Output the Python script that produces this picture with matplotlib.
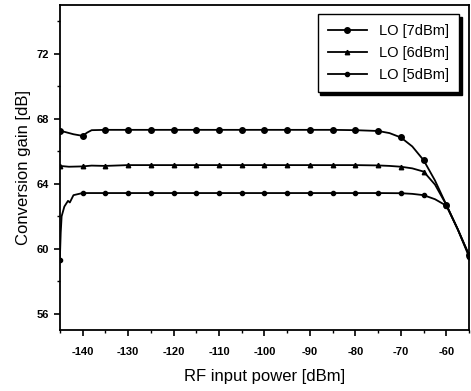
import matplotlib.pyplot as plt
from matplotlib.ticker import MultipleLocator

# RF input power [dBm] and conversion gain [dB]
x_7dbm = [-145, -144, -142, -140, -139, -138, -135, -130, -125, -120, -115, -110,
          -105, -100, -95, -90, -85, -80, -75, -72.5, -70, -67.5, -65, -62.5,
          -60, -57.5, -55]
g_7dbm = [67.25, 67.2, 67.05, 66.95, 67.15, 67.3, 67.32, 67.32, 67.32, 67.32, 67.32, 67.32,
          67.32, 67.32, 67.32, 67.32, 67.32, 67.3, 67.25, 67.12, 66.85, 66.3, 65.45, 64.2,
          62.7, 61.2, 59.6]

x_6dbm = [-145, -143, -140, -138, -135, -130, -125, -120, -115, -110,
          -105, -100, -95, -90, -85, -80, -75, -72.5, -70, -67.5, -65, -62.5,
          -60, -57.5, -55]
g_6dbm = [65.1, 65.05, 65.07, 65.12, 65.1, 65.15, 65.15, 65.15, 65.15, 65.15,
          65.15, 65.15, 65.15, 65.15, 65.15, 65.15, 65.13, 65.1, 65.05, 64.95, 64.75, 63.95,
          62.7, 61.2, 59.6]

x_5dbm = [-145, -144.8, -144.6, -144, -143.2, -142.8, -142, -140, -135, -130, -125,
          -120, -115, -110, -105, -100, -95, -90, -85, -80, -75, -70, -67.5,
          -65, -62.5, -60, -57.5, -55]
g_5dbm = [59.3, 61.0, 62.0, 62.6, 62.95, 62.85, 63.3, 63.43, 63.43, 63.43, 63.43,
          63.43, 63.43, 63.43, 63.43, 63.43, 63.43, 63.43, 63.43, 63.43, 63.43, 63.42, 63.38,
          63.3, 63.05, 62.65, 61.2, 59.5]

labels = ["LO [7dBm]", "LO [6dBm]", "LO [5dBm]"]
markers = ["o", "^", "o"]
msizes = [4, 3.2, 3]

plt.rcParams['font.family'] = ['Liberation Sans', 'DejaVu Sans']
plt.rcParams['axes.unicode_minus'] = False

fig = plt.figure(figsize=(4.71, 3.91), dpi=100)
ax = fig.add_axes([0.127, 0.156, 0.869, 0.831])

series = [(x_7dbm, g_7dbm), (x_6dbm, g_6dbm), (x_5dbm, g_5dbm)]
for (xs, ys), lab, mk, ms in zip(series, labels, markers, msizes):
    # markers only on the 5 dB grid
    every = [i for i, v in enumerate(xs) if v % 5 == 0]
    ax.plot(xs, ys, color='black', lw=1.3, marker=mk, ms=ms,
            markevery=every, label=lab)

ax.set_xlim(-145, -55)
ax.set_ylim(55, 75)
ax.xaxis.set_minor_locator(MultipleLocator(5))
ax.yaxis.set_major_locator(MultipleLocator(4))
ax.yaxis.set_minor_locator(MultipleLocator(2))
ax.set_xticks(range(-140, -59, 10))
ax.tick_params(which='major', direction='out', length=4, width=1.2, labelsize=8)
ax.tick_params(axis='x', which='major', pad=8)
ax.tick_params(which='minor', direction='out', length=2.5, width=1.0)
for lab in ax.get_xticklabels() + ax.get_yticklabels():
    lab.set_fontweight('bold')
for sp in ax.spines.values():
    sp.set_linewidth(1.3)

ax.set_xlabel("RF input power [dBm]", fontsize=12, labelpad=9)
ax.set_ylabel("Conversion gain [dB]", fontsize=12, labelpad=4)

leg = ax.legend(loc='upper right', bbox_to_anchor=(0.993, 0.995), fontsize=10.5,
                frameon=True, fancybox=False, handlelength=2.7,
                borderpad=0.7, labelspacing=0.55,
                shadow={'color': 'black', 'alpha': 1})
leg.get_frame().set_edgecolor('black')
leg.get_frame().set_linewidth(1.0)

fig.savefig("out.png", dpi=100)
